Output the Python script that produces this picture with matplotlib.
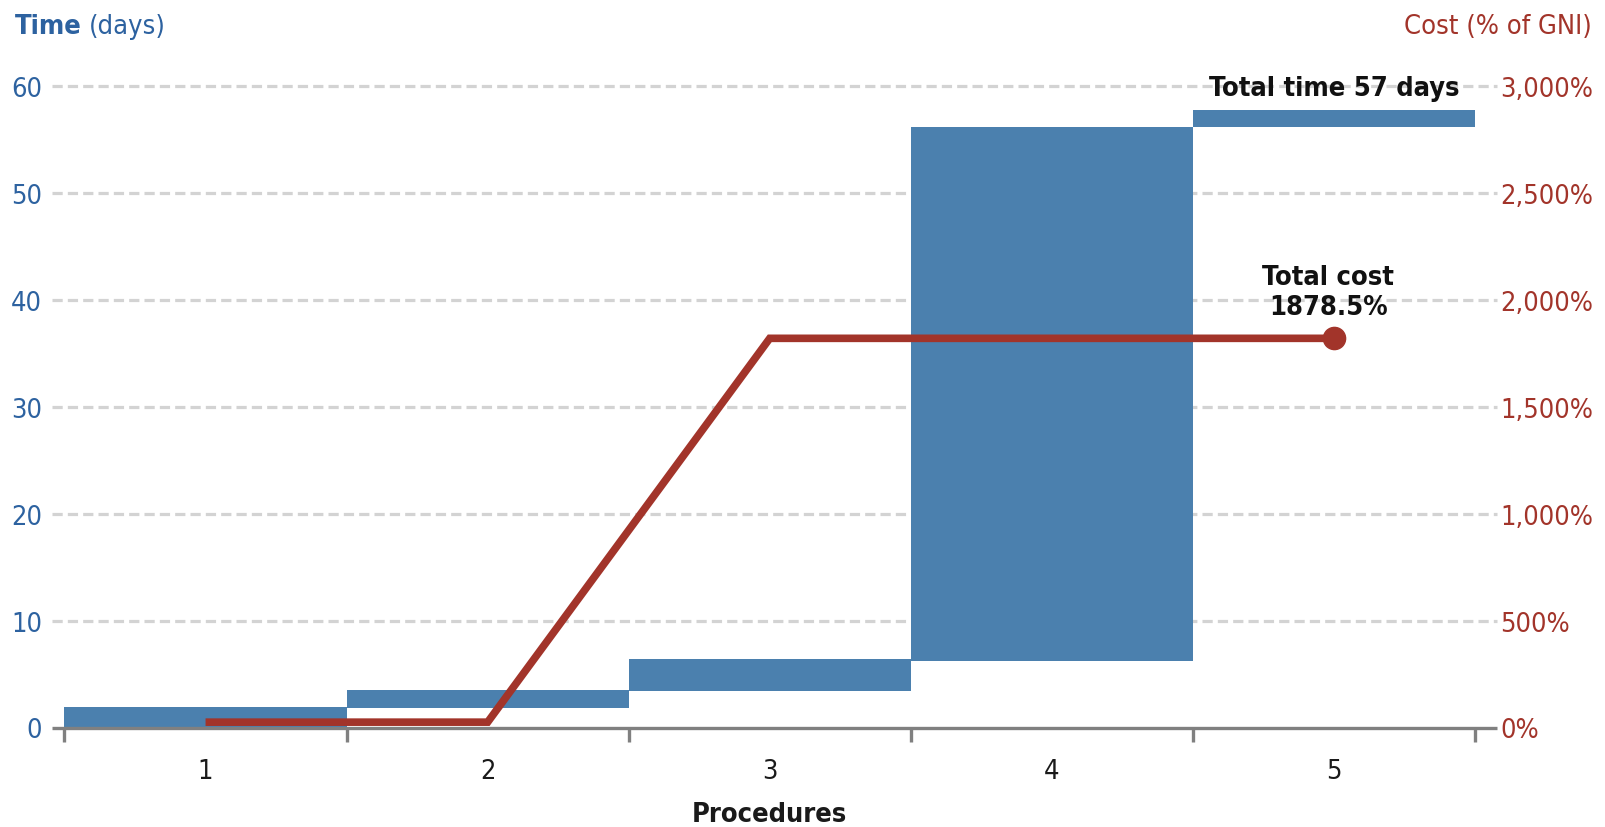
import numpy as np
import matplotlib
matplotlib.use("Agg")
import matplotlib.pyplot as plt
import matplotlib.transforms as mtransforms
from matplotlib.ticker import FuncFormatter

plt.rcParams['font.family'] = ['DejaVu Sans']
plt.rcParams['font.stretch'] = 'condensed'

# data
procedures = [1, 2, 3, 4, 5]
time_start = [0.0, 1.8, 3.37, 6.2, 56.16]   # days, bottom of each floating bar
time_end = [1.95, 3.55, 6.4, 56.16, 57.75]  # days, top of each floating bar
cost_cum = [25, 25, 1820, 1820, 1820]       # % of GNI, cumulative
total_time = 57
total_cost = 1878.5
time_ticks = [0, 10, 20, 30, 40, 50, 60]
cost_ticks = [0, 500, 1000, 1500, 2000, 2500, 3000]

BLUE = '#4b80ae'
BLUE_TXT = '#2d62a0'
RED = '#a2342a'
GRID = '#d3d3d3'
AXIS = '#808080'
FS = 19.5

W, H = 1606, 828
fig = plt.figure(figsize=(W / 100, H / 100), dpi=100)
ax = fig.add_axes([64.5 / W, 1 - 728.5 / H, (1475 - 64.5) / W, (728.5 - 87) / H])
ax2 = ax.twinx()

# floating bars for time
heights = np.array(time_end) - np.array(time_start)
ax.bar(procedures, heights, bottom=time_start, width=1.0, color=BLUE, zorder=3)

ax.set_xlim(0.5, 5.5)
ax.set_ylim(0, 60)
ax2.set_ylim(0, 3000)

# dashed grid lines running a bit past the plot area
trans = mtransforms.blended_transform_factory(ax.transAxes, ax.transData)
for t in time_ticks[1:]:
    ax.plot([-0.0088, 1.0155], [t, t], transform=trans, color=GRID, lw=2.3,
            dashes=(3.2, 1.6), clip_on=False, zorder=1)

# x axis line and boundary ticks
ax.plot([-0.0088, 1.0155], [0, 0], transform=trans, color=AXIS, lw=2.4,
        clip_on=False, zorder=4, solid_capstyle='butt')
for s in ['top', 'right', 'left', 'bottom']:
    ax.spines[s].set_visible(False)
    ax2.spines[s].set_visible(False)

ax.set_xticks([p + 0.5 for p in [0] + procedures])
ax.set_xticklabels([])
ax.tick_params(axis='x', which='major', length=10, width=2.4, color=AXIS)
ax.set_xticks(procedures, minor=True)
ax.set_xticklabels([str(p) for p in procedures], minor=True)
ax.tick_params(axis='x', which='minor', length=0, pad=22, labelsize=FS, labelcolor='#1a1a1a')

ax.set_yticks(time_ticks)
ax.tick_params(axis='y', length=0, pad=16, labelsize=FS, labelcolor=BLUE_TXT)
ax2.set_yticks(cost_ticks)
ax2.yaxis.set_major_formatter(FuncFormatter(lambda v, p: '{:,.0f}%'.format(v)))
ax2.tick_params(axis='y', length=0, pad=18, labelsize=FS, labelcolor=RED)

# cumulative cost line
ax2.plot(procedures, cost_cum, color=RED, lw=5.5, solid_joinstyle='miter',
         solid_capstyle='butt', zorder=5)
ax2.plot(procedures[-1], cost_cum[-1], 'o', color=RED, ms=16, zorder=6)

ax.set_xlabel('Procedures', fontsize=FS, fontweight='bold', color='#1a1a1a', labelpad=12)

# axis titles
t1 = fig.text(15 / W, 1 - 27 / H, 'Time', fontsize=FS, fontweight='bold', color=BLUE_TXT,
              ha='left', va='center')
fig.canvas.draw()
bb = t1.get_window_extent()
fig.text((bb.x1 + 7) / W, 1 - 27 / H, '(days)', fontsize=FS, color=BLUE_TXT,
         ha='left', va='center')
fig.text(1592 / W, 1 - 27 / H, 'Cost (% of GNI)', fontsize=FS, color=RED,
         ha='right', va='center')

# totals
ax.text(5.0, total_time + 2.8, 'Total time {} days'.format(total_time), fontsize=FS,
        fontweight='bold', color='#111111', ha='center', va='center', zorder=7)
ax2.text(4.98, cost_cum[-1] + 85, 'Total cost\n{}%'.format(total_cost), fontsize=FS,
         fontweight='bold', color='#111111', ha='center', va='bottom',
         linespacing=1.2, zorder=7)

fig.savefig('out.png', dpi=100)
